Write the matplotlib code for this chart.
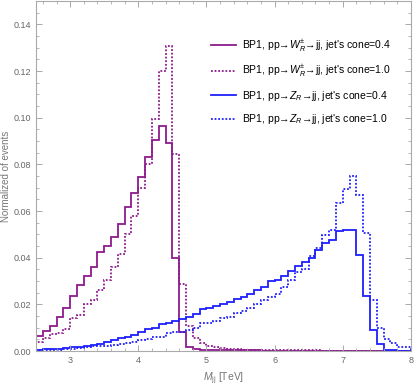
import numpy as np
import matplotlib
matplotlib.use("Agg")
import matplotlib.pyplot as plt
from matplotlib.ticker import MultipleLocator

plt.rcParams['font.family'] = ['Liberation Sans', 'DejaVu Sans']
plt.rcParams['mathtext.fontset'] = 'custom'
plt.rcParams['mathtext.it'] = 'Liberation Sans:italic'
plt.rcParams['mathtext.rm'] = 'Liberation Sans'

# bin edges of M_jj [TeV], 0.1 TeV bins
edges = np.round(np.arange(2.5, 8.0001, 0.1), 2)

w_cone04 = [0.0067, 0.0087, 0.0107, 0.0147, 0.0187, 0.0236, 0.0285, 0.0324, 0.0360, 0.0424,
            0.0451, 0.0488, 0.0546, 0.0616, 0.0677, 0.0747, 0.0832, 0.0904, 0.0966, 0.0890,
            0.0400, 0.0083, 0.0016, 0.0008, 0.0006, 0.0005, 0.0004, 0.0004, 0.0003, 0.0003,
            0.0003, 0.0003, 0.0003, 0.0002, 0.0002, 0.0002, 0.0002, 0.0002, 0.0002, 0.0002,
            0.0002, 0.0002, 0.0002, 0.0001, 0.0001, 0.0001, 0.0001, 0.0001, 0.0001, 0.0001,
            0.0001, 0.0001, 0.0001, 0.0001, 0.0001]

w_cone10 = [0.0040, 0.0055, 0.0072, 0.0078, 0.0094, 0.0142, 0.0155, 0.0204, 0.0221, 0.0264,
            0.0307, 0.0361, 0.0418, 0.0504, 0.0581, 0.0700, 0.0804, 0.0997, 0.1200, 0.1307,
            0.0844, 0.0287, 0.0107, 0.0056, 0.0034, 0.0022, 0.0016, 0.0012, 0.0010, 0.0008,
            0.0007, 0.0006, 0.0005, 0.0005, 0.0004, 0.0004, 0.0003, 0.0003, 0.0003, 0.0003,
            0.0003, 0.0003, 0.0002, 0.0002, 0.0002, 0.0002, 0.0002, 0.0002, 0.0002, 0.0002,
            0.0002, 0.0002, 0.0002, 0.0002, 0.0002]

z_cone04 = [0.0007, 0.0008, 0.0009, 0.0011, 0.0013, 0.0016, 0.0019, 0.0022, 0.0027, 0.0032,
            0.0038, 0.0046, 0.0055, 0.0061, 0.0068, 0.0080, 0.0093, 0.0101, 0.0116, 0.0121,
            0.0130, 0.0137, 0.0147, 0.0161, 0.0179, 0.0187, 0.0193, 0.0201, 0.0211, 0.0224,
            0.0230, 0.0244, 0.0264, 0.0275, 0.0302, 0.0304, 0.0323, 0.0344, 0.0367, 0.0383,
            0.0401, 0.0432, 0.0462, 0.0478, 0.0515, 0.0518, 0.0519, 0.0411, 0.0237, 0.0089,
            0.0030, 0.0007, 0.0003, 0.0002, 0.0002]

z_cone10 = [0.0003, 0.0004, 0.0005, 0.0006, 0.0008, 0.0010, 0.0013, 0.0016, 0.0020, 0.0022,
            0.0024, 0.0027, 0.0030, 0.0035, 0.0041, 0.0048, 0.0051, 0.0059, 0.0061, 0.0079,
            0.0082, 0.0084, 0.0090, 0.0101, 0.0119, 0.0122, 0.0130, 0.0140, 0.0147, 0.0164,
            0.0173, 0.0187, 0.0204, 0.0218, 0.0233, 0.0244, 0.0275, 0.0304, 0.0340, 0.0354,
            0.0409, 0.0440, 0.0499, 0.0521, 0.0633, 0.0697, 0.0751, 0.0671, 0.0508, 0.0218,
            0.0100, 0.0050, 0.0037, 0.0016, 0.0016]

labels = ["BP1, pp→$W_R^{\\pm}$→jj, jet's cone=0.4",
          "BP1, pp→$W_R^{\\pm}$→jj, jet's cone=1.0",
          "BP1, pp→$Z_R$→jj, jet's cone=0.4",
          "BP1, pp→$Z_R$→jj, jet's cone=1.0"]

purple = '#8c1a8c'
blue = '#1f1fff'
dots = (0, (1, 1))

fig = plt.figure(figsize=(4.15, 3.88), dpi=100)
ax = fig.add_axes([0.087, 0.095, 0.903, 0.902])

ax.stairs(w_cone04, edges, color=purple, lw=1.3, label=labels[0])
ax.stairs(w_cone10, edges, color=purple, lw=1.3, ls=dots, label=labels[1])
ax.stairs(z_cone04, edges, color=blue, lw=1.3, label=labels[2])
ax.stairs(z_cone10, edges, color=blue, lw=1.3, ls=dots, label=labels[3])

ax.set_xlim(2.5, 8.0)
ax.set_ylim(0, 0.15)
ax.xaxis.set_major_locator(MultipleLocator(1))
ax.xaxis.set_minor_locator(MultipleLocator(0.2))
ax.yaxis.set_major_locator(MultipleLocator(0.02))
ax.yaxis.set_minor_locator(MultipleLocator(0.005))
ax.yaxis.set_major_formatter(matplotlib.ticker.FormatStrFormatter('%.2f'))

for s in ax.spines.values():
    s.set_color('#aaaaaa')
    s.set_linewidth(0.8)
ax.tick_params(which='both', direction='in', top=True, right=True,
               color='#aaaaaa', labelcolor='#666666', labelsize=6.5)
ax.tick_params(which='major', length=4, width=0.7)
ax.tick_params(which='minor', length=2, width=0.6)

ax.set_xlabel(r"$M_{\rm jj}$ [TeV]", color='#777777', fontsize=7.5, labelpad=4)
ax.set_ylabel("Normalized of events", color='#777777', fontsize=7, labelpad=2)

ax.legend(loc='upper left', bbox_to_anchor=(0.468, 0.895), frameon=False,
          fontsize=7.5, handlelength=2.4, handletextpad=0.5, labelspacing=0.9,
          borderaxespad=0, borderpad=0)

fig.savefig("out.png", dpi=100)
